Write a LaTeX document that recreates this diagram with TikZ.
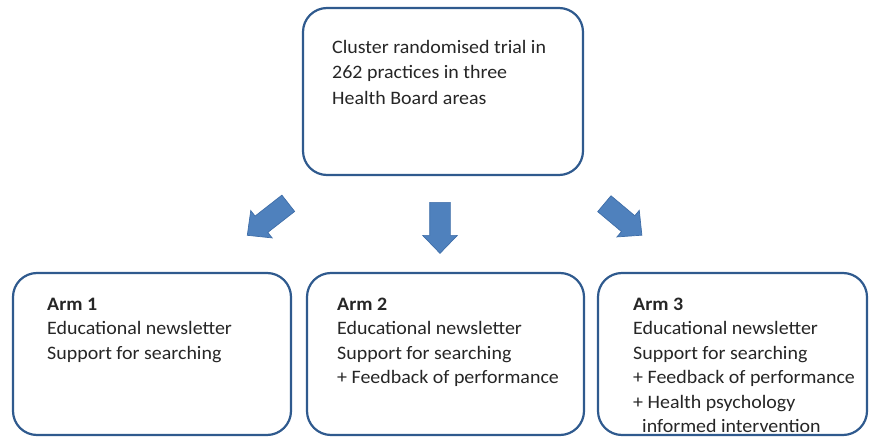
\documentclass[tikz,border=0pt]{standalone}
\usepackage{fontspec}
\setmainfont[FakeStretch=1.05]{Carlito}
\usetikzlibrary{shapes.arrows}
\definecolor{boxline}{HTML}{2F5A8E}
\definecolor{arrfill}{HTML}{4F81BD}
\definecolor{arrline}{HTML}{3F6EA8}
\definecolor{txt}{HTML}{262626}
\tikzset{
  box/.style={draw=boxline, line width=2.2pt, rounded corners=24pt, fill=white},
  lbl/.style={anchor=north west, align=left, inner sep=0pt, text=txt,
    font=\fontsize{19pt}{24.5pt}\selectfont},
  barrow/.style={single arrow, fill=arrfill, draw=arrline, line width=0.7pt,
    inner sep=10pt, single arrow head extend=7pt, single arrow tip angle=88,
    minimum height=#1}
}
\begin{document}
\begin{tikzpicture}[x=1pt,y=-1pt]
\useasboundingbox (0,0) rectangle (870,438);
% boxes
\draw[box] (303,8) rectangle (583,175);
\draw[box] (13,273) rectangle (291,435);
\draw[box] (307,273) rectangle (584,435);
\draw[box] (598,273) rectangle (867,435);
% texts
\node[lbl, font=\fontsize{19pt}{25.5pt}\selectfont] (ttop) at (332,40) {Cluster randomised trial in\\262 practices in three\\Health Board areas};
\node[lbl] (t1) at (47,297.5) {\textbf{Arm 1}\\Educational newsletter\\Support for searching};
\node[lbl] (t2) at (337,297.5) {\textbf{Arm 2}\\Educational newsletter\\Support for searching\\+ Feedback of performance};
\node[lbl] (t3) at (633,297.5) {\textbf{Arm 3}\\Educational newsletter\\Support for searching\\+ Feedback of performance\\+ Health psychology\\\hspace*{9pt}informed intervention};
% block arrows
\node[barrow=52pt, rotate=218] (a1) at (272,216) {};
\node[barrow=51pt, rotate=-90] (a2) at (440,222.5) {};
\node[barrow=49pt, rotate=-40] (a3) at (619,216) {};
\end{tikzpicture}
\end{document}
